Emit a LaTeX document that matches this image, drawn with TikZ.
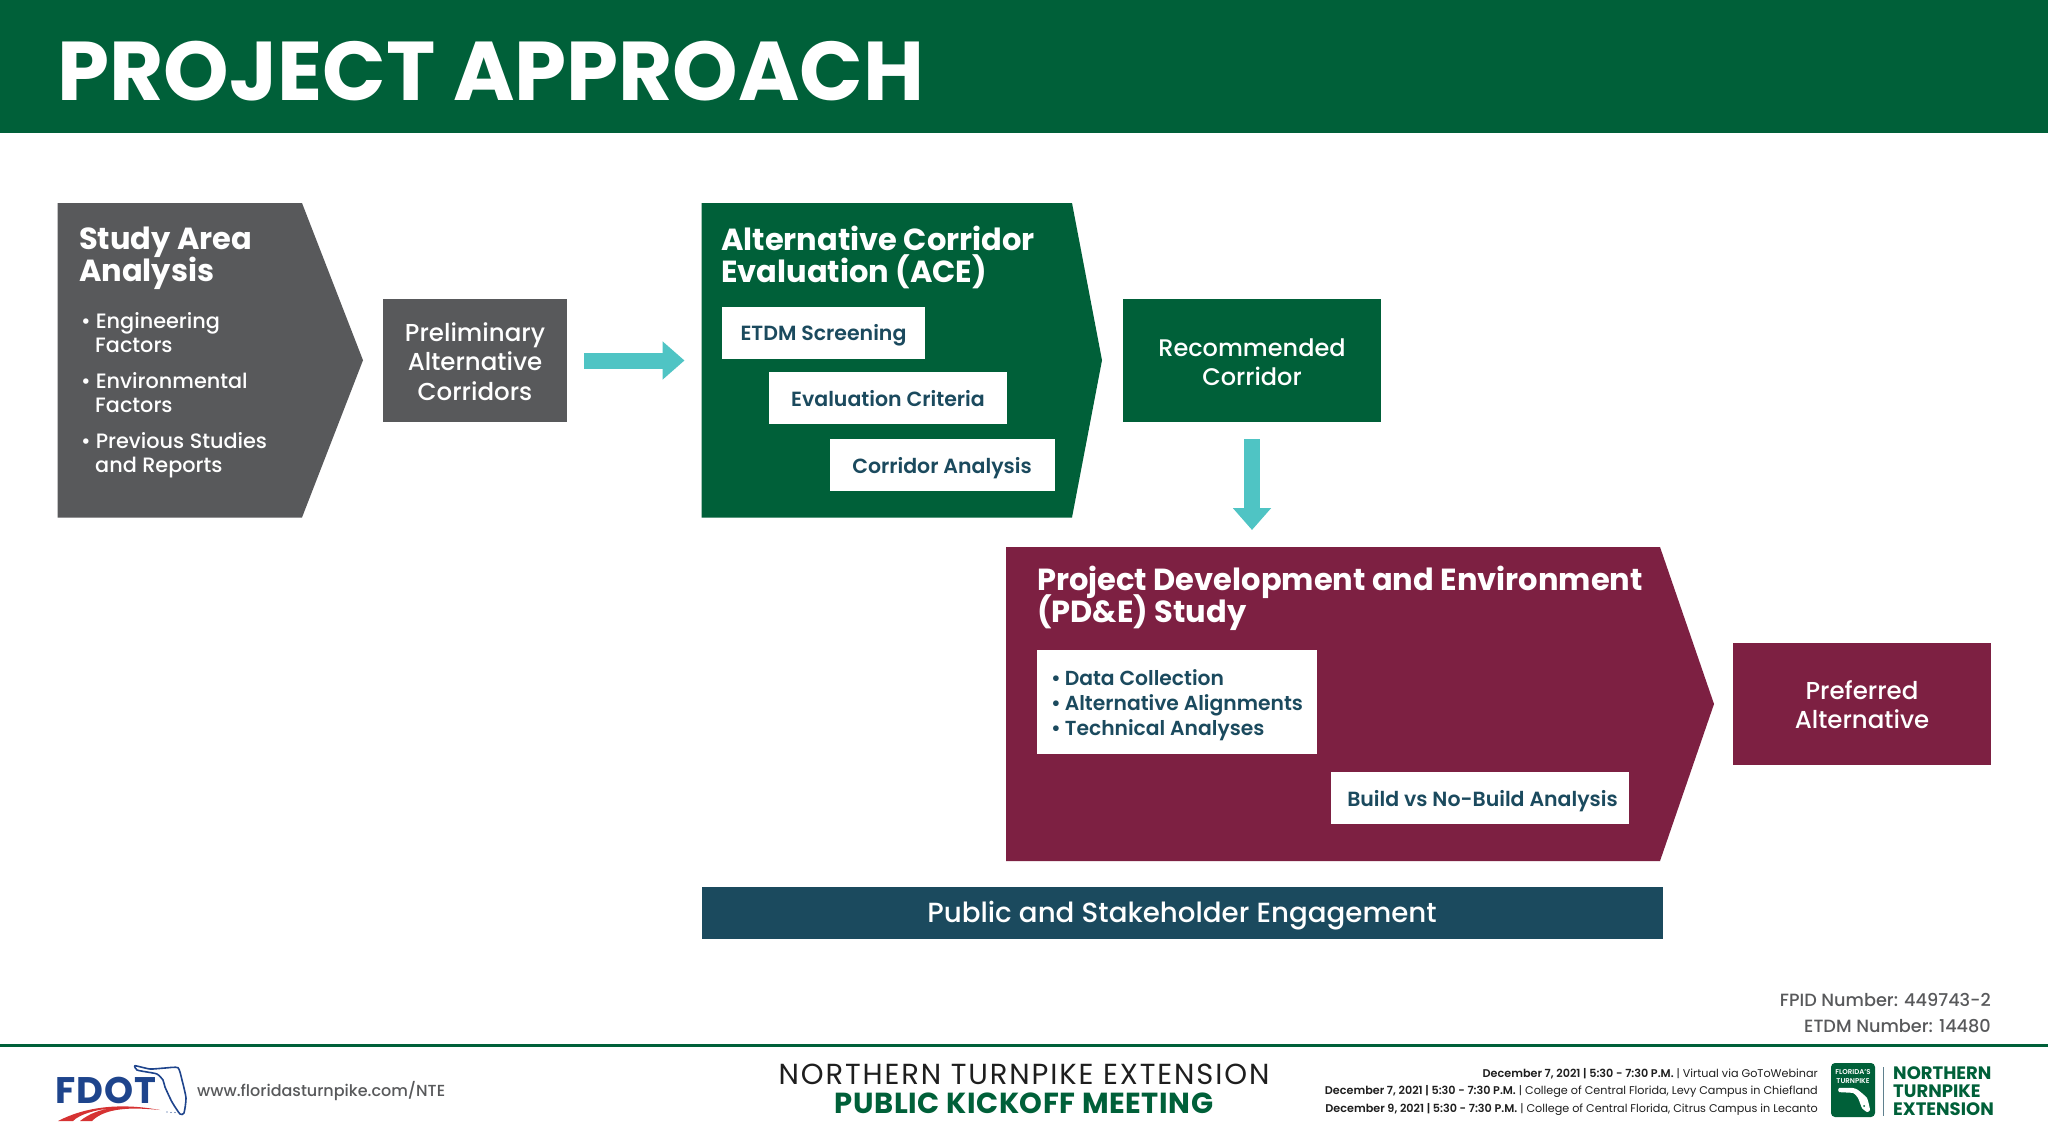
\documentclass[tikz,border=0pt]{standalone}
\usepackage{fontspec}
\usetikzlibrary{arrows.meta,calc}
\setmainfont{Poppins}[BoldFont={Poppins SemiBold}]
\newfontfamily\pmed{Poppins Medium}
\newfontfamily\pbold{Poppins}[UprightFont={* Bold}]
\definecolor{fgreen}{RGB}{0,96,57}
\definecolor{fgrey}{RGB}{88,89,91}
\definecolor{fmaroon}{RGB}{125,32,66}
\definecolor{fnavy}{RGB}{27,74,94}
\definecolor{fteal}{RGB}{79,196,196}
\definecolor{fblue}{RGB}{30,68,140}
\definecolor{fred}{RGB}{214,50,50}
\definecolor{ftext}{RGB}{30,30,30}
\newcommand{\fsz}[2]{\fontsize{#1}{#2}\selectfont\lineskiplimit=-50pt\relax}
\newcommand{\topst}{\rule{0pt}{21pt}}
\tikzset{
  x=1pt,y=-1pt,
  region/.style={inner sep=0pt,outer sep=0pt,anchor=north west},
  solidbox/.style={inner sep=0pt,outer sep=0pt,text=white,align=center,font=\pmed\fsz{24.5}{29.5}},
  whitebox/.style={fill=white,inner sep=0pt,outer sep=0pt,text=fnavy,text height=14.5pt,text depth=0pt,font=\fsz{20.5}{25}\bfseries},
  head/.style={inner sep=0pt,anchor=north west,align=left,text=white,font=\pbold\fsz{30.5}{32}},
  item/.style={inner sep=0pt,anchor=north west,align=left,text=white,font=\pmed\fsz{20.8}{24.5}},
  bigarrow/.style={draw=fteal,line width=16pt,-{Triangle[length=22pt,width=37pt]},shorten <=17pt,shorten >=17pt},
}
\newcommand{\chevron}[3]{\fill[#2] (#1.north west) -- ($(#1.north east)+(-#3,0)$) -- (#1.east) -- ($(#1.south east)+(-#3,0)$) -- (#1.south west) -- cycle;}
\begin{document}
\begin{tikzpicture}
\useasboundingbox (0,0) rectangle (2048,1138);
\fill[white] (0,0) rectangle (2048,1138);
% banner
\fill[fgreen] (0,0) rectangle (2048,133);
\node[inner sep=0pt,anchor=base west,text=white,font=\pbold\fsz{83.4}{85}] (title) at (57,100) {PROJECT APPROACH};
% study area
\node[region,minimum width=305.5,minimum height=314.5] (study) at (57.5,203) {};
\chevron{study}{fgrey}{61}
\node[head] (studyh) at (79,227) {Study Area\\Analysis};
\node[item] (studyi1) at (81,312) {•\hspace{5pt}Engineering\\\hspace{14pt}Factors};
\node[item] (studyi2) at (81,372) {•\hspace{5pt}Environmental\\\hspace{14pt}Factors};
\node[item] (studyi3) at (81,432) {•\hspace{5pt}Previous Studies\\\hspace{14pt}and Reports};
% preliminary
\node[solidbox,fill=fgrey,minimum width=184,minimum height=123] (prelim) at (475,360.5) {\topst Preliminary\\Alternative\\Corridors};
% ACE
\node[region,minimum width=400.5,minimum height=314.5] (ace) at (701.5,203) {};
\chevron{ace}{fgreen}{30}
\node[head] (aceh) at (721,226) {Alternative Corridor\\Evaluation (ACE)};
\node[whitebox,minimum width=203,minimum height=52] (etdm) at (823.5,333) {ETDM Screening};
\node[whitebox,text height=17.5pt,minimum width=238,minimum height=52] (eval) at (888,398) {Evaluation Criteria};
\node[whitebox,text height=16.5pt,minimum width=225,minimum height=52] (corr) at (942,465) {Corridor Analysis};
% recommended
\node[solidbox,fill=fgreen,font=\pmed\fsz{24}{29.5},minimum width=258,minimum height=123] (rec) at (1252,360.5) {\topst Recommended\\Corridor};
% PD&E
\node[region,minimum width=708,minimum height=314] (pde) at (1006,547) {};
\chevron{pde}{fmaroon}{54}
\node[head] (pdeh) at (1037,566) {Project Development and Environment\\(PD\&E) Study};
\node[whitebox,align=left,text height=,text depth=,minimum width=280,minimum height=104,font=\fsz{20.3}{24.7}\bfseries] (data) at (1177,702) {\rule{0pt}{22pt}•\hspace{4pt}Data Collection\\•\hspace{4pt}Alternative Alignments\\•\hspace{4pt}Technical Analyses};
\node[whitebox,text height=16.5pt,minimum width=298,minimum height=52] (build) at (1480,798) {\hspace*{5pt}Build vs No-Build Analysis};
% preferred
\node[solidbox,fill=fmaroon,minimum width=258,minimum height=122] (pref) at (1862,703.5) {\topst Preferred\\Alternative};
% engagement
\node[fill=fnavy,text=white,inner sep=0pt,minimum width=961,minimum height=52,text height=19.5pt,text depth=0pt,font=\pmed\fsz{27.7}{30}] (eng) at (1182,913) {Public and Stakeholder Engagement};
% connectors
\draw[bigarrow] (prelim.east) -- (prelim.east -| ace.west);
\draw[bigarrow] (rec.south) -- (rec.south |- pde.north);
% ids
\node[inner sep=0pt,anchor=east,text=fgrey,font=\pmed\fsz{17.7}{20}] (fpid) at (1991,1000) {FPID Number: 449743-2};
\node[inner sep=0pt,anchor=east,text=fgrey,font=\pmed\fsz{17.7}{20}] (etdmn) at (1991,1026) {ETDM Number: 14480};
% footer line
\fill[fgreen] (0,1044) rectangle (2048,1046.5);
% FDOT logo
\node[inner sep=0pt,anchor=base west,text=fblue,font=\pbold\fsz{37}{38}\addfontfeatures{LetterSpace=3}] (fdot) at (55,1103) {FDOT};
\draw[fblue,line width=1.6pt,line join=round] plot[smooth cycle,tension=.35] coordinates {(135,1065.7) (150,1069) (165,1068) (178,1067.7) (182,1080) (186,1098) (184,1113) (180,1114) (172,1102) (165,1087) (163,1080) (157,1074) (147,1072) (137,1070)};
\fill[fblue] (167,1112) circle (.6) (171,1112.5) circle (.6) (175,1112.5) circle (.6);
\fill[fred] (58,1121) .. controls (83,1108) and (117,1102) .. (160,1110) .. controls (130,1107) and (105,1108) .. (92,1121) -- (80,1121) .. controls (90,1113) and (100,1110) .. (112,1108) .. controls (95,1110) and (80,1114) .. (73,1121) -- cycle;
\node[inner sep=0pt,anchor=west,text=fgrey,font=\pmed\fsz{16}{18}] (web) at (197,1091) {www.floridasturnpike.com/NTE};
% centre titles
\node[inner sep=0pt,anchor=center,text=ftext,font=\fsz{29}{30}\addfontfeatures{LetterSpace=6.5}] (nte) at (1024,1074) {NORTHERN TURNPIKE EXTENSION};
\node[inner sep=0pt,anchor=center,text=fgreen,font=\pbold\fsz{29}{30}\addfontfeatures{LetterSpace=2}] (pkm) at (1024,1103) {PUBLIC KICKOFF MEETING};
% dates
\node[inner sep=0pt,anchor=east,text=ftext,font=\fsz{11.2}{14}] (d1) at (1818,1074) {\textbf{December 7, 2021 | 5:30 - 7:30 P.M.} | Virtual via GoToWebinar};
\node[inner sep=0pt,anchor=east,text=ftext,font=\fsz{11.2}{14}] (d2) at (1818,1091.5) {\textbf{December 7, 2021 | 5:30 - 7:30 P.M.} | College of Central Florida, Levy Campus in Chiefland};
\node[inner sep=0pt,anchor=east,text=ftext,font=\fsz{11.2}{14}] (d3) at (1818,1109) {\textbf{December 9, 2021 | 5:30 - 7:30 P.M.} | College of Central Florida, Citrus Campus in Lecanto};
% turnpike logo
\fill[fgreen,rounded corners=4pt] (1831,1063) rectangle (1875,1117);
\node[inner sep=0pt,align=center,text=white,font=\fsz{7}{9}\bfseries] (ft) at (1853,1076.5) {FLORIDA'S\\TURNPIKE};
\fill[white] plot[smooth cycle,tension=.3] coordinates {(1839,1088) (1853,1088) (1858,1090) (1867,1098) (1870,1110) (1867,1112) (1862,1108) (1858,1098) (1853,1093) (1839,1092)};
\fill[fgreen] (1864,1106) circle (1);
\draw[fnavy!70,line width=1.2pt] (1883.5,1067) -- (1883.5,1116);
\node[inner sep=0pt,anchor=west,align=left,text=fgreen,font=\pbold\fsz{18}{18}] (ntel) at (1893,1091) {NORTHERN\\TURNPIKE\\EXTENSION};
\end{tikzpicture}
\end{document}
